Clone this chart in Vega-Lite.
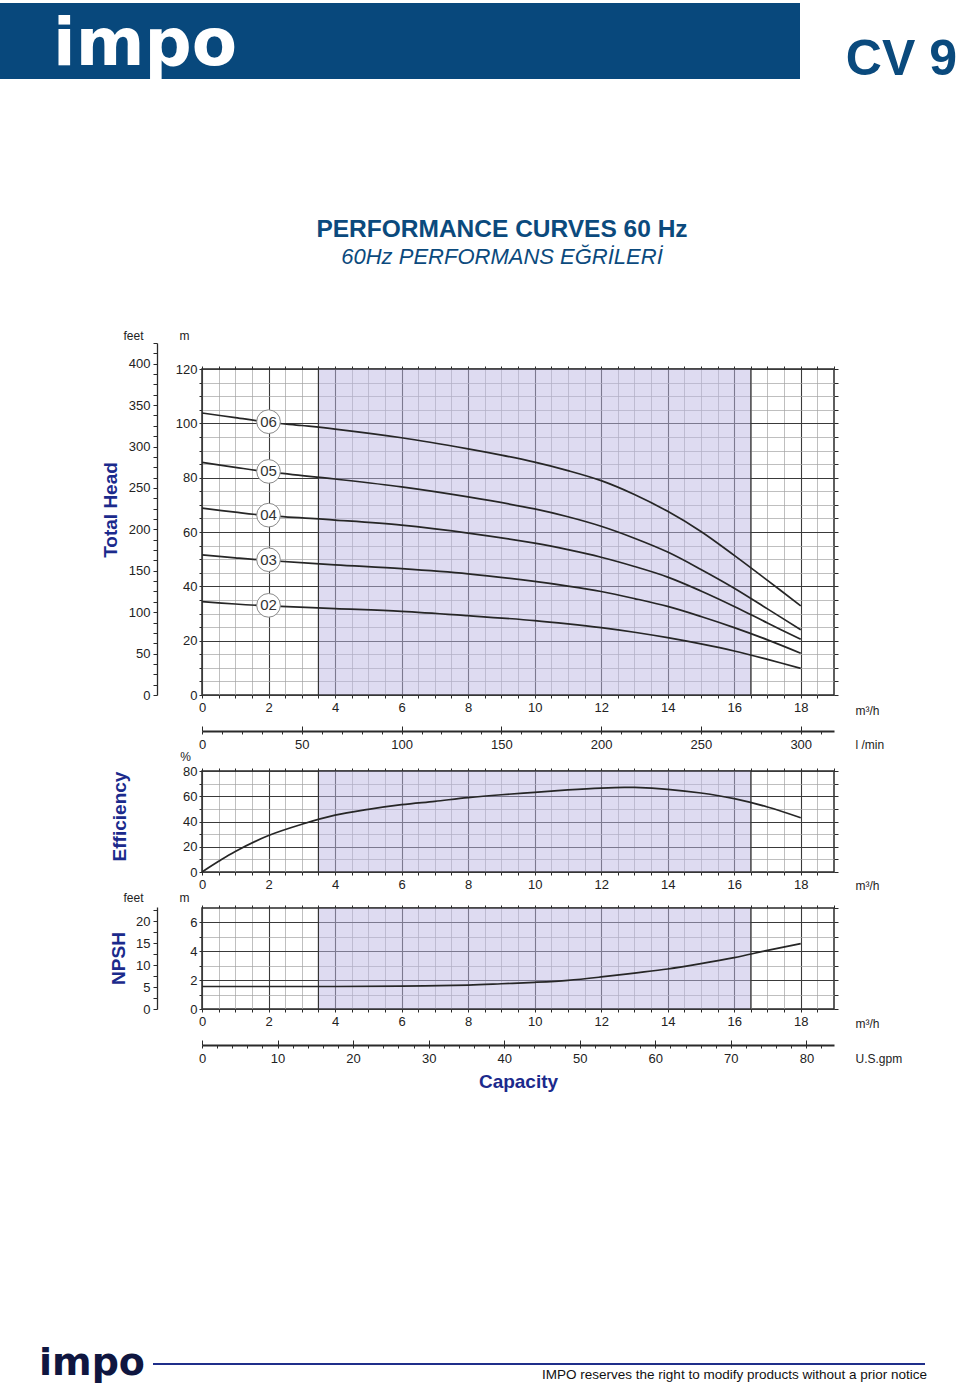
{
  "$schema": "https://vega.github.io/schema/vega-lite/v6.json",
  "background": "white",
  "padding": {"left": 0, "top": 3, "right": 0, "bottom": 0},
  "bounds": "flush",
  "spacing": 36,
  "config": {
    "font": "Liberation Sans",
    "view": {"stroke": "#2a2a2a", "strokeWidth": 1.5},
    "axis": {
      "labelFont": "Liberation Sans", "labelFontSize": 13, "labelColor": "#222",
      "titleFont": "Liberation Sans", "titleFontSize": 12, "titleFontWeight": "normal", "titleColor": "#222",
      "domainColor": "#2a2a2a", "tickColor": "#2a2a2a", "tickWidth": 1,
      "labelFlush": false, "labelOverlap": false
    }
  },
  "datasets": {
    "region": [{"start": 3.5, "end": 16.5}],
    "head": [
      {"stage": "06", "q": 0, "h": 103.8}, {"stage": "06", "q": 1, "h": 102.1}, {"stage": "06", "q": 2, "h": 100.4}, {"stage": "06", "q": 3, "h": 99.2}, {"stage": "06", "q": 4, "h": 97.9}, {"stage": "06", "q": 6, "h": 94.7}, {"stage": "06", "q": 8, "h": 90.6}, {"stage": "06", "q": 9, "h": 88.3}, {"stage": "06", "q": 10, "h": 85.7}, {"stage": "06", "q": 11, "h": 82.6}, {"stage": "06", "q": 12, "h": 78.9}, {"stage": "06", "q": 13, "h": 73.8}, {"stage": "06", "q": 14, "h": 67.6}, {"stage": "06", "q": 15, "h": 60.2}, {"stage": "06", "q": 16, "h": 51.4}, {"stage": "06", "q": 17, "h": 42.2}, {"stage": "06", "q": 18, "h": 32.8},
      {"stage": "05", "q": 0, "h": 85.6}, {"stage": "05", "q": 1, "h": 83.8}, {"stage": "05", "q": 2, "h": 82.1}, {"stage": "05", "q": 4, "h": 79.5}, {"stage": "05", "q": 6, "h": 76.6}, {"stage": "05", "q": 8, "h": 72.9}, {"stage": "05", "q": 10, "h": 68.5}, {"stage": "05", "q": 11, "h": 65.6}, {"stage": "05", "q": 12, "h": 62.1}, {"stage": "05", "q": 13, "h": 57.7}, {"stage": "05", "q": 14, "h": 52.6}, {"stage": "05", "q": 15, "h": 46.2}, {"stage": "05", "q": 16, "h": 39.3}, {"stage": "05", "q": 17, "h": 31.7}, {"stage": "05", "q": 18, "h": 24.0},
      {"stage": "04", "q": 0, "h": 68.8}, {"stage": "04", "q": 1, "h": 67.3}, {"stage": "04", "q": 2, "h": 66.0}, {"stage": "04", "q": 4, "h": 64.4}, {"stage": "04", "q": 6, "h": 62.5}, {"stage": "04", "q": 8, "h": 59.6}, {"stage": "04", "q": 10, "h": 55.9}, {"stage": "04", "q": 11, "h": 53.5}, {"stage": "04", "q": 12, "h": 50.7}, {"stage": "04", "q": 13, "h": 47.3}, {"stage": "04", "q": 14, "h": 43.4}, {"stage": "04", "q": 15, "h": 38.3}, {"stage": "04", "q": 16, "h": 32.6}, {"stage": "04", "q": 17, "h": 26.5}, {"stage": "04", "q": 18, "h": 20.5},
      {"stage": "03", "q": 0, "h": 51.6}, {"stage": "03", "q": 1, "h": 50.5}, {"stage": "03", "q": 2, "h": 49.5}, {"stage": "03", "q": 4, "h": 47.9}, {"stage": "03", "q": 6, "h": 46.5}, {"stage": "03", "q": 8, "h": 44.6}, {"stage": "03", "q": 10, "h": 41.8}, {"stage": "03", "q": 11, "h": 40.1}, {"stage": "03", "q": 12, "h": 38.1}, {"stage": "03", "q": 13, "h": 35.5}, {"stage": "03", "q": 14, "h": 32.6}, {"stage": "03", "q": 15, "h": 28.9}, {"stage": "03", "q": 16, "h": 24.8}, {"stage": "03", "q": 17, "h": 20.3}, {"stage": "03", "q": 18, "h": 15.4},
      {"stage": "02", "q": 0, "h": 34.4}, {"stage": "02", "q": 1, "h": 33.5}, {"stage": "02", "q": 2, "h": 32.8}, {"stage": "02", "q": 4, "h": 31.8}, {"stage": "02", "q": 6, "h": 30.8}, {"stage": "02", "q": 8, "h": 29.2}, {"stage": "02", "q": 10, "h": 27.4}, {"stage": "02", "q": 11, "h": 26.2}, {"stage": "02", "q": 12, "h": 24.8}, {"stage": "02", "q": 13, "h": 23.1}, {"stage": "02", "q": 14, "h": 21.1}, {"stage": "02", "q": 15, "h": 18.8}, {"stage": "02", "q": 16, "h": 16.2}, {"stage": "02", "q": 17, "h": 13.1}, {"stage": "02", "q": 18, "h": 9.8}
    ],
    "labels": [
      {"stage": "06", "q": 2, "h": 100.6}, {"stage": "05", "q": 2, "h": 82.3}, {"stage": "04", "q": 2, "h": 66.2}, {"stage": "03", "q": 2, "h": 49.8}, {"stage": "02", "q": 2, "h": 33.0}
    ],
    "eff": [
      {"q": 0, "e": 0}, {"q": 0.5, "e": 8.5}, {"q": 1, "e": 16.3}, {"q": 2, "e": 28.9}, {"q": 3, "e": 37.8}, {"q": 4, "e": 45.0}, {"q": 5, "e": 49.6}, {"q": 6, "e": 53.3}, {"q": 7, "e": 56.0}, {"q": 8, "e": 58.9}, {"q": 9, "e": 61.2}, {"q": 10, "e": 63.1}, {"q": 11, "e": 65.0}, {"q": 12, "e": 66.5}, {"q": 12.7, "e": 67.1}, {"q": 13, "e": 67.0}, {"q": 14, "e": 65.5}, {"q": 15, "e": 62.6}, {"q": 16, "e": 58.1}, {"q": 17, "e": 51.5}, {"q": 18, "e": 43.0}
    ],
    "npsh": [
      {"q": 0, "n": 1.56}, {"q": 2, "n": 1.56}, {"q": 4, "n": 1.56}, {"q": 6, "n": 1.58}, {"q": 8, "n": 1.66}, {"q": 9, "n": 1.75}, {"q": 10, "n": 1.85}, {"q": 11, "n": 1.99}, {"q": 12, "n": 2.22}, {"q": 13, "n": 2.49}, {"q": 14, "n": 2.77}, {"q": 15, "n": 3.14}, {"q": 16, "n": 3.56}, {"q": 17, "n": 4.06}, {"q": 18, "n": 4.53}
    ]
  },
  "vconcat": [
    {
      "width": 632, "height": 76,
      "view": {"stroke": null},
      "data": {"values": [{"brand": "impo", "model": "CV 9"}]},
      "title": {
        "text": "PERFORMANCE CURVES 60 Hz", "subtitle": "60Hz PERFORMANS EĞRİLERİ",
        "orient": "bottom", "anchor": "middle", "offset": 133, "dx": -16,
        "font": "Liberation Sans", "fontSize": 24.5, "fontWeight": "bold", "color": "#0b4a7d",
        "subtitleFont": "Liberation Sans", "subtitleFontSize": 22, "subtitleFontStyle": "italic", "subtitleColor": "#0b4a7d", "subtitlePadding": 4
      },
      "layer": [
        {"mark": {"type": "rect", "fill": "#08487c"},
         "encoding": {"x": {"datum": 0, "type": "quantitative", "scale": {"domain": [0, 960], "range": [-202, 758], "nice": false, "zero": false}, "axis": null}, "x2": {"datum": 800}}},
        {"mark": {"type": "text", "font": "DejaVu Sans", "fontWeight": "bold", "fontSize": 66, "fill": "white", "align": "center", "baseline": "alphabetic", "dy": 24},
         "encoding": {"x": {"datum": 145, "type": "quantitative", "axis": null}, "text": {"field": "brand"}}},
        {"mark": {"type": "text", "font": "Liberation Sans", "fontWeight": "bold", "fontSize": 50, "fill": "#0a4a7d", "align": "right", "baseline": "alphabetic", "dy": 34},
         "encoding": {"x": {"datum": 957, "type": "quantitative", "axis": null}, "text": {"field": "model"}}}
      ]
    },
    {
      "width": 632, "height": 218,
      "view": {"stroke": null},
      "data": {"values": [{}]},
      "mark": {"type": "point", "opacity": 0},
      "encoding": {"x": {"datum": 0, "type": "quantitative", "axis": null}}
    },
    {
      "width": 632, "height": 326,
      "title": {"text": "Total Head", "orient": "left", "anchor": "middle", "offset": 2, "dx": 22, "fontSize": 19, "fontWeight": "bold", "color": "#1b2a8c", "font": "Liberation Sans"},
      "resolve": {"scale": {"y": "independent"}, "axis": {"x": "independent", "y": "independent"}},
      "layer": [
        {"data": {"name": "region"},
         "mark": {"type": "rect", "fill": "#bdb7e3", "fillOpacity": 0.5, "stroke": "#333", "strokeWidth": 1.2},
         "encoding": {
           "x": {"field": "start", "type": "quantitative", "scale": {"domain": [0, 19], "nice": false, "zero": false},
                 "axis": {"orient": "top", "values": [0,0.5,1,1.5,2,2.5,3,3.5,4,4.5,5,5.5,6,6.5,7,7.5,8,8.5,9,9.5,10,10.5,11,11.5,12,12.5,13,13.5,14,14.5,15,15.5,16,16.5,17,17.5,18,18.5,19], "labels": false, "domain": false, "grid": false, "tickSize": 3, "title": null}},
           "x2": {"field": "end"},
           "y": {"datum": 0, "type": "quantitative", "scale": {"domain": [0, 120], "nice": false, "zero": false},
                 "axis": {"orient": "right", "values": [0,5,10,15,20,25,30,35,40,45,50,55,60,65,70,75,80,85,90,95,100,105,110,115,120], "labels": false, "domain": false, "grid": false, "tickSize": 4, "title": null}},
           "y2": {"datum": 120}
         }},
        {"data": {"name": "head"},
         "mark": {"type": "line", "stroke": "#262626", "strokeWidth": 1.7, "interpolate": "catmull-rom"},
         "encoding": {
           "x": {"field": "q", "type": "quantitative", "scale": {"domain": [0, 19], "nice": false, "zero": false},
                 "axis": {"orient": "bottom", "values": [0,0.5,1,1.5,2,2.5,3,3.5,4,4.5,5,5.5,6,6.5,7,7.5,8,8.5,9,9.5,10,10.5,11,11.5,12,12.5,13,13.5,14,14.5,15,15.5,16,16.5,17,17.5,18,18.5],
                          "grid": true,
                          "gridColor": {"condition": {"test": "datum.value % 2 === 0", "value": "#3a3a3a"}, "value": "#a4a4a4"},
                          "gridWidth": {"condition": {"test": "datum.value % 2 === 0", "value": 1.1}, "value": 0.7},
                          "labelExpr": "datum.value % 2 === 0 ? '' + datum.value : ''",
                          "tickSize": 3, "labelPadding": 3, "domain": false,
                          "title": "m³/h", "titleX": 653, "titleY": 15, "titleAlign": "left", "titleBaseline": "middle"}},
           "y": {"field": "h", "type": "quantitative", "scale": {"domain": [0, 120], "nice": false, "zero": false},
                 "axis": {"orient": "left", "values": [0,5,10,15,20,25,30,35,40,45,50,55,60,65,70,75,80,85,90,95,100,105,110,115,120],
                          "grid": true,
                          "gridColor": {"condition": {"test": "datum.value % 20 === 0", "value": "#3a3a3a"}, "value": "#a4a4a4"},
                          "gridWidth": {"condition": {"test": "datum.value % 20 === 0", "value": 1.1}, "value": 0.7},
                          "labelExpr": "datum.value % 20 === 0 ? '' + datum.value : ''",
                          "tickSize": 3, "labelPadding": 2, "domain": false,
                          "title": "m", "titleAngle": 0, "titleX": -18, "titleY": -34, "titleAlign": "center", "titleBaseline": "middle"}},
           "detail": {"field": "stage"}
         }},
        {"data": {"name": "labels"},
         "mark": {"type": "point", "shape": "circle", "filled": true, "fill": "white", "stroke": "#8a8a8a", "strokeWidth": 1, "size": 560, "opacity": 1},
         "encoding": {
           "x": {"field": "q", "type": "quantitative", "scale": {"domain": [0, 19], "nice": false, "zero": false}, "axis": null},
           "y": {"field": "h", "type": "quantitative", "scale": {"domain": [0, 120], "nice": false, "zero": false}, "axis": null}
         }},
        {"data": {"name": "labels"},
         "mark": {"type": "text", "fontSize": 15, "fill": "#333", "align": "center", "baseline": "middle", "font": "Liberation Sans"},
         "encoding": {
           "x": {"field": "q", "type": "quantitative", "scale": {"domain": [0, 19], "nice": false, "zero": false}, "axis": null},
           "y": {"field": "h", "type": "quantitative", "scale": {"domain": [0, 120], "nice": false, "zero": false}, "axis": null},
           "text": {"field": "stage"}
         }},
        {"data": {"values": [{}]},
         "mark": {"type": "point", "opacity": 0},
         "encoding": {
           "x": {"datum": 0, "type": "quantitative", "scale": {"domain": [0, 19], "nice": false, "zero": false}, "axis": null},
           "y": {"datum": 0, "type": "quantitative", "scale": {"domain": [0, 425], "range": [326, -26], "nice": false, "zero": false},
                 "axis": {"orient": "left", "offset": 45, "values": [0,12.5,25,37.5,50,62.5,75,87.5,100,112.5,125,137.5,150,162.5,175,187.5,200,212.5,225,237.5,250,262.5,275,287.5,300,312.5,325,337.5,350,362.5,375,387.5,400,412.5,425],
                          "labelExpr": "datum.value % 50 === 0 ? '' + datum.value : ''",
                          "tickSize": 4, "labelPadding": 3, "grid": false, "domain": true, "domainWidth": 1.3,
                          "title": "feet", "titleAngle": 0, "titleX": -24, "titleY": -34, "titleAlign": "center", "titleBaseline": "middle"}}
         }}
      ]
    },
    {
      "width": 632, "height": 4,
      "view": {"stroke": null},
      "data": {"values": [{}]},
      "resolve": {"axis": {"x": "independent"}},
      "layer": [
        {"mark": {"type": "point", "opacity": 0},
         "encoding": {"x": {"datum": 0, "type": "quantitative", "scale": {"domain": [0, 316.6667], "nice": false, "zero": false},
           "axis": {"orient": "bottom", "offset": -4, "values": [0,10,20,30,40,50,60,70,80,90,100,110,120,130,140,150,160,170,180,190,200,210,220,230,240,250,260,270,280,290,300,310],
                    "labelExpr": "datum.value % 50 === 0 ? '' + datum.value : ''",
                    "tickSize": 3, "labelPadding": 4, "domainWidth": 1.8, "grid": false,
                    "title": "l /min", "titleX": 653, "titleY": 13, "titleAlign": "left", "titleBaseline": "middle"}},
           "y": {"datum": 0, "type": "quantitative", "axis": null}}},
        {"mark": {"type": "point", "opacity": 0},
         "encoding": {"x": {"datum": 0, "type": "quantitative", "scale": {"domain": [0, 316.6667], "nice": false, "zero": false},
           "axis": {"orient": "bottom", "offset": -4, "values": [0,50,100,150,200,250,300], "labels": false, "domain": false, "grid": false, "tickSize": -5, "title": null}},
           "y": {"datum": 0, "type": "quantitative", "axis": null}}}
      ]
    },
    {
      "width": 632, "height": 101,
      "title": {"text": "Efficiency", "orient": "left", "anchor": "middle", "offset": 50, "dx": 5, "fontSize": 19, "fontWeight": "bold", "color": "#1b2a8c", "font": "Liberation Sans"},
      "resolve": {"axis": {"x": "independent", "y": "independent"}},
      "layer": [
        {"data": {"name": "region"},
         "mark": {"type": "rect", "fill": "#bdb7e3", "fillOpacity": 0.5, "stroke": "#333", "strokeWidth": 1.2},
         "encoding": {
           "x": {"field": "start", "type": "quantitative", "scale": {"domain": [0, 19], "nice": false, "zero": false},
                 "axis": {"orient": "top", "values": [0,0.5,1,1.5,2,2.5,3,3.5,4,4.5,5,5.5,6,6.5,7,7.5,8,8.5,9,9.5,10,10.5,11,11.5,12,12.5,13,13.5,14,14.5,15,15.5,16,16.5,17,17.5,18,18.5,19], "labels": false, "domain": false, "grid": false, "tickSize": 3, "title": null}},
           "x2": {"field": "end"},
           "y": {"datum": 0, "type": "quantitative", "scale": {"domain": [0, 80], "nice": false, "zero": false},
                 "axis": {"orient": "right", "values": [0,10,20,30,40,50,60,70,80], "labels": false, "domain": false, "grid": false, "tickSize": 4, "title": null}},
           "y2": {"datum": 80}
         }},
        {"data": {"name": "eff"},
         "mark": {"type": "line", "stroke": "#262626", "strokeWidth": 1.7, "interpolate": "catmull-rom"},
         "encoding": {
           "x": {"field": "q", "type": "quantitative", "scale": {"domain": [0, 19], "nice": false, "zero": false},
                 "axis": {"orient": "bottom", "values": [0,0.5,1,1.5,2,2.5,3,3.5,4,4.5,5,5.5,6,6.5,7,7.5,8,8.5,9,9.5,10,10.5,11,11.5,12,12.5,13,13.5,14,14.5,15,15.5,16,16.5,17,17.5,18,18.5],
                          "grid": true,
                          "gridColor": {"condition": {"test": "datum.value % 2 === 0", "value": "#3a3a3a"}, "value": "#a4a4a4"},
                          "gridWidth": {"condition": {"test": "datum.value % 2 === 0", "value": 1.1}, "value": 0.7},
                          "labelExpr": "datum.value % 2 === 0 ? '' + datum.value : ''",
                          "tickSize": 3, "labelPadding": 3, "domain": false,
                          "title": "m³/h", "titleX": 653, "titleY": 13, "titleAlign": "left", "titleBaseline": "middle"}},
           "y": {"field": "e", "type": "quantitative", "scale": {"domain": [0, 80], "nice": false, "zero": false},
                 "axis": {"orient": "left", "values": [0,10,20,30,40,50,60,70,80],
                          "grid": true,
                          "gridColor": {"condition": {"test": "datum.value % 20 === 0", "value": "#3a3a3a"}, "value": "#a4a4a4"},
                          "gridWidth": {"condition": {"test": "datum.value % 20 === 0", "value": 1.1}, "value": 0.7},
                          "labelExpr": "datum.value % 20 === 0 ? '' + datum.value : ''",
                          "tickSize": 3, "labelPadding": 2, "domain": false,
                          "title": "%", "titleAngle": 0, "titleX": -17, "titleY": -15, "titleAlign": "center", "titleBaseline": "middle"}}
         }}
      ]
    },
    {
      "width": 632, "height": 101,
      "title": {"text": "NPSH", "orient": "left", "anchor": "middle", "offset": -6, "fontSize": 19, "fontWeight": "bold", "color": "#1b2a8c", "font": "Liberation Sans"},
      "resolve": {"scale": {"y": "independent"}, "axis": {"x": "independent", "y": "independent"}},
      "layer": [
        {"data": {"name": "region"},
         "mark": {"type": "rect", "fill": "#bdb7e3", "fillOpacity": 0.5, "stroke": "#333", "strokeWidth": 1.2},
         "encoding": {
           "x": {"field": "start", "type": "quantitative", "scale": {"domain": [0, 19], "nice": false, "zero": false},
                 "axis": {"orient": "top", "values": [0,0.5,1,1.5,2,2.5,3,3.5,4,4.5,5,5.5,6,6.5,7,7.5,8,8.5,9,9.5,10,10.5,11,11.5,12,12.5,13,13.5,14,14.5,15,15.5,16,16.5,17,17.5,18,18.5,19], "labels": false, "domain": false, "grid": false, "tickSize": 3, "title": null}},
           "x2": {"field": "end"},
           "y": {"datum": 0, "type": "quantitative", "scale": {"domain": [0, 7], "nice": false, "zero": false},
                 "axis": {"orient": "right", "values": [0,1,2,3,4,5,6,7], "labels": false, "domain": false, "grid": false, "tickSize": 4, "title": null}},
           "y2": {"datum": 7}
         }},
        {"data": {"name": "npsh"},
         "mark": {"type": "line", "stroke": "#262626", "strokeWidth": 1.7, "interpolate": "catmull-rom"},
         "encoding": {
           "x": {"field": "q", "type": "quantitative", "scale": {"domain": [0, 19], "nice": false, "zero": false},
                 "axis": {"orient": "bottom", "values": [0,0.5,1,1.5,2,2.5,3,3.5,4,4.5,5,5.5,6,6.5,7,7.5,8,8.5,9,9.5,10,10.5,11,11.5,12,12.5,13,13.5,14,14.5,15,15.5,16,16.5,17,17.5,18,18.5],
                          "grid": true,
                          "gridColor": {"condition": {"test": "datum.value % 2 === 0", "value": "#3a3a3a"}, "value": "#a4a4a4"},
                          "gridWidth": {"condition": {"test": "datum.value % 2 === 0", "value": 1.1}, "value": 0.7},
                          "labelExpr": "datum.value % 2 === 0 ? '' + datum.value : ''",
                          "tickSize": 3, "labelPadding": 3, "domain": false,
                          "title": "m³/h", "titleX": 653, "titleY": 14, "titleAlign": "left", "titleBaseline": "middle"}},
           "y": {"field": "n", "type": "quantitative", "scale": {"domain": [0, 7], "nice": false, "zero": false},
                 "axis": {"orient": "left", "values": [0,1,2,3,4,5,6],
                          "grid": true,
                          "gridColor": {"condition": {"test": "datum.value % 2 === 0", "value": "#3a3a3a"}, "value": "#a4a4a4"},
                          "gridWidth": {"condition": {"test": "datum.value % 2 === 0", "value": 1.1}, "value": 0.7},
                          "labelExpr": "datum.value % 2 === 0 ? '' + datum.value : ''",
                          "tickSize": 3, "labelPadding": 2, "domain": false,
                          "title": "m", "titleAngle": 0, "titleX": -18, "titleY": -11, "titleAlign": "center", "titleBaseline": "middle"}}
         }},
        {"data": {"values": [{}]},
         "mark": {"type": "point", "opacity": 0},
         "encoding": {
           "x": {"datum": 0, "type": "quantitative", "scale": {"domain": [0, 19], "nice": false, "zero": false}, "axis": null},
           "y": {"datum": 0, "type": "quantitative", "scale": {"domain": [0, 23.2], "range": [101, -1], "nice": false, "zero": false},
                 "axis": {"orient": "left", "offset": 45, "values": [0,2.5,5,7.5,10,12.5,15,17.5,20,22.5],
                          "labelExpr": "datum.value % 5 === 0 ? '' + datum.value : ''",
                          "tickSize": 4, "labelPadding": 3, "grid": false, "domain": true, "domainWidth": 1.3,
                          "title": "feet", "titleAngle": 0, "titleX": -24, "titleY": -11, "titleAlign": "center", "titleBaseline": "middle"}}
         }}
      ]
    },
    {
      "width": 632, "height": 282,
      "view": {"stroke": null},
      "data": {"values": [{}]},
      "resolve": {"axis": {"x": "independent"}},
      "layer": [
        {"mark": {"type": "point", "opacity": 0},
         "encoding": {"x": {"datum": 0, "type": "quantitative", "scale": {"domain": [0, 83.655], "nice": false, "zero": false},
           "axis": {"orient": "bottom", "offset": -282, "values": [0,2,4,6,8,10,12,14,16,18,20,22,24,26,28,30,32,34,36,38,40,42,44,46,48,50,52,54,56,58,60,62,64,66,68,70,72,74,76,78,80,82],
                    "labelExpr": "datum.value % 10 === 0 ? '' + datum.value : ''",
                    "tickSize": 3, "labelPadding": 4, "domainWidth": 1.8, "grid": false,
                    "title": "U.S.gpm", "titleX": 653, "titleY": 13, "titleAlign": "left", "titleBaseline": "middle"}},
           "y": {"datum": 0, "type": "quantitative", "axis": null}}},
        {"mark": {"type": "point", "opacity": 0},
         "encoding": {"x": {"datum": 0, "type": "quantitative", "scale": {"domain": [0, 83.655], "nice": false, "zero": false},
           "axis": {"orient": "bottom", "offset": -282, "values": [0,10,20,30,40,50,60,70,80], "labels": false, "domain": false, "grid": false, "tickSize": -5, "title": null}},
           "y": {"datum": 0, "type": "quantitative", "axis": null}}},
        {"mark": {"type": "point", "opacity": 0},
         "encoding": {"x": {"datum": 0, "type": "quantitative", "scale": {"domain": [0, 83.655], "nice": false, "zero": false},
           "axis": {"orient": "bottom", "offset": -282, "labels": false, "ticks": false, "domain": false, "grid": false,
                    "title": "Capacity", "titleFontSize": 19, "titleFontWeight": "bold", "titleColor": "#1b2a8c", "titleX": 316, "titleY": 36, "titleAlign": "center", "titleBaseline": "middle"}},
           "y": {"datum": 0, "type": "quantitative", "axis": null}}}
      ]
    },
    {
      "width": 632, "height": 2,
      "view": {"stroke": null},
      "data": {"values": [{"brand": "impo", "notice": "IMPO reserves the right to modify products without a prior notice"}]},
      "layer": [
        {"mark": {"type": "rect", "fill": "#1f2e8a"},
         "encoding": {"x": {"datum": 153, "type": "quantitative", "scale": {"domain": [0, 960], "range": [-202, 758], "nice": false, "zero": false}, "axis": null}, "x2": {"datum": 925}}},
        {"mark": {"type": "text", "font": "DejaVu Sans", "fontWeight": "bold", "fontSize": 38, "fill": "#0f1640", "align": "center", "baseline": "alphabetic", "dy": 11},
         "encoding": {"x": {"datum": 92, "type": "quantitative", "axis": null}, "text": {"field": "brand"}}},
        {"mark": {"type": "text", "font": "Liberation Sans", "fontSize": 13.5, "fill": "#111", "align": "right", "baseline": "alphabetic", "dy": 15},
         "encoding": {"x": {"datum": 927, "type": "quantitative", "axis": null}, "text": {"field": "notice"}}}
      ]
    }
  ]
}
